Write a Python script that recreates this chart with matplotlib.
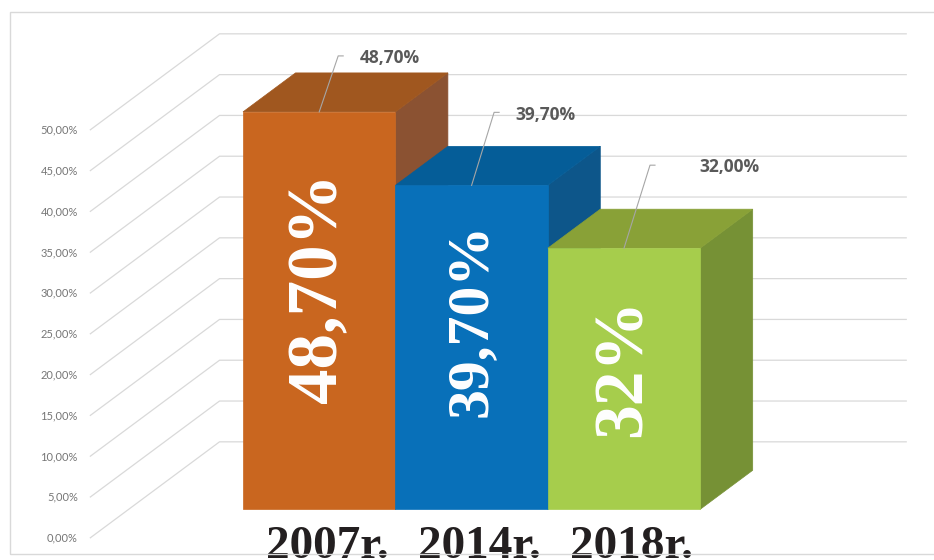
import matplotlib
matplotlib.use("Agg")
import matplotlib.pyplot as plt
from matplotlib.patches import Polygon, Rectangle
import numpy as np

# ---- data ----
categories = ["2007r.", "2014r.", "2018r."]
values = [48.70, 39.70, 32.00]
inbar_labels = ["48,70%", "39,70%", "32%"]
tick_values = [0, 5, 10, 15, 20, 25, 30, 35, 40, 45, 50]

# ---- style ----
front_colors = ["#C9661F", "#0870B9", "#A6CD4C"]
top_colors = ["#A0571F", "#055D98", "#89A137"]
side_colors = ["#8B5232", "#0D568A", "#769135"]
inbar_sizes = [51, 43, 50]
inbar_shift = [3, 8, -8]   # vertical pixel nudges of the in-bar labels
# (leader end dx, dy, text dx, dy) in pixels from bar front-top centre
label_offsets = [(19, 56, 41, 54), (22.5, 73, 43.5, 70), (26, 83, 75, 81)]

W, H = 934, 560
fig = plt.figure(figsize=(W / 100, H / 100), dpi=100)
ax = fig.add_axes([0, 0, 1, 1])
ax.axis("off")

x0px, unit_px, y0px, pct_px = 319.2, 152.4, 509.3, 8.16
ax.set_xlim(-x0px / unit_px, (W - x0px) / unit_px)
ax.set_ylim((y0px - H) / pct_px, y0px / pct_px)
PX = 1.0 / unit_px   # data x per pixel
PY = 1.0 / pct_px    # data y per pixel

DX, DY = 52.5 * PX, 39 * PY          # bar depth
f0, f1 = -0.74, 1.73                 # floor front / back (in bar depths)
n = len(categories)
pos = np.arange(n)
margin = 0.75
wall_x = -0.5 - margin
right_x = n - 0.5 + margin + 0.01

grid_c = "#D9D9D9"
for v in tick_values:
    xs = [wall_x + f0 * DX, wall_x + f1 * DX, right_x + f1 * DX]
    ys = [v + f0 * DY, v + f1 * DY, v + f1 * DY]
    ax.plot(xs, ys, color=grid_c, lw=0.9, zorder=1, solid_capstyle="butt")
    ax.annotate(f"{v:.2f}".replace(".", ",") + "%", xy=(xs[0], ys[0]),
                xytext=(-12, 0), textcoords="offset pixels", ha="right", va="center",
                fontsize=8, family="Lato", color="#767676")

# bars
for i, v in enumerate(values):
    x = pos[i]
    front = [(x - 0.5, 0), (x + 0.5, 0), (x + 0.5, v), (x - 0.5, v)]
    top = [(x - 0.5, v), (x + 0.5, v), (x + 0.5 + DX, v + DY), (x - 0.5 + DX, v + DY)]
    side = [(x + 0.5, 0), (x + 0.5 + DX, DY), (x + 0.5 + DX, v + DY), (x + 0.5, v)]
    z = 3 + i
    ax.add_patch(Polygon(side, closed=True, facecolor=side_colors[i], edgecolor=side_colors[i], lw=0.5, zorder=z))
    ax.add_patch(Polygon(top, closed=True, facecolor=top_colors[i], edgecolor=top_colors[i], lw=0.5, zorder=z))
    ax.add_patch(Polygon(front, closed=True, facecolor=front_colors[i], edgecolor=front_colors[i], lw=0.5, zorder=z))
    ax.annotate(inbar_labels[i], xy=(x, (v + DY) / 2), xytext=(0, inbar_shift[i]),
                textcoords="offset pixels", rotation=90, ha="center", va="center",
                fontsize=inbar_sizes[i], family="Liberation Serif", fontweight="bold",
                color="white", zorder=10)
    # data label with leader
    lx, ly, tx, ty = label_offsets[i]
    ax.plot([x, x + lx * PX, x + (lx + 5) * PX], [v, v + ly * PY, v + ly * PY],
            color="#A6A6A6", lw=0.8, zorder=11)
    ax.annotate(f"{v:.2f}".replace(".", ",") + "%", xy=(x, v), xytext=(tx, ty),
                textcoords="offset pixels", ha="left", va="center", fontsize=12.5,
                family="Open Sans", fontweight="bold", color="#595959", zorder=11)
    # category label
    ax.annotate(categories[i], xy=(x, 0), xytext=(8, -49), textcoords="offset pixels",
                ha="center", va="baseline", fontsize=34, family="Liberation Serif",
                fontweight="bold", color="#231F20", zorder=11, annotation_clip=False)

# chart area border
fig.patches.append(Rectangle((10 / W, (H - 554) / H), 1.0, (554 - 12) / H,
                             transform=fig.transFigure, fill=False,
                             edgecolor="#D9D9D9", lw=1.0, zorder=0))

fig.savefig("out.png", dpi=100)
